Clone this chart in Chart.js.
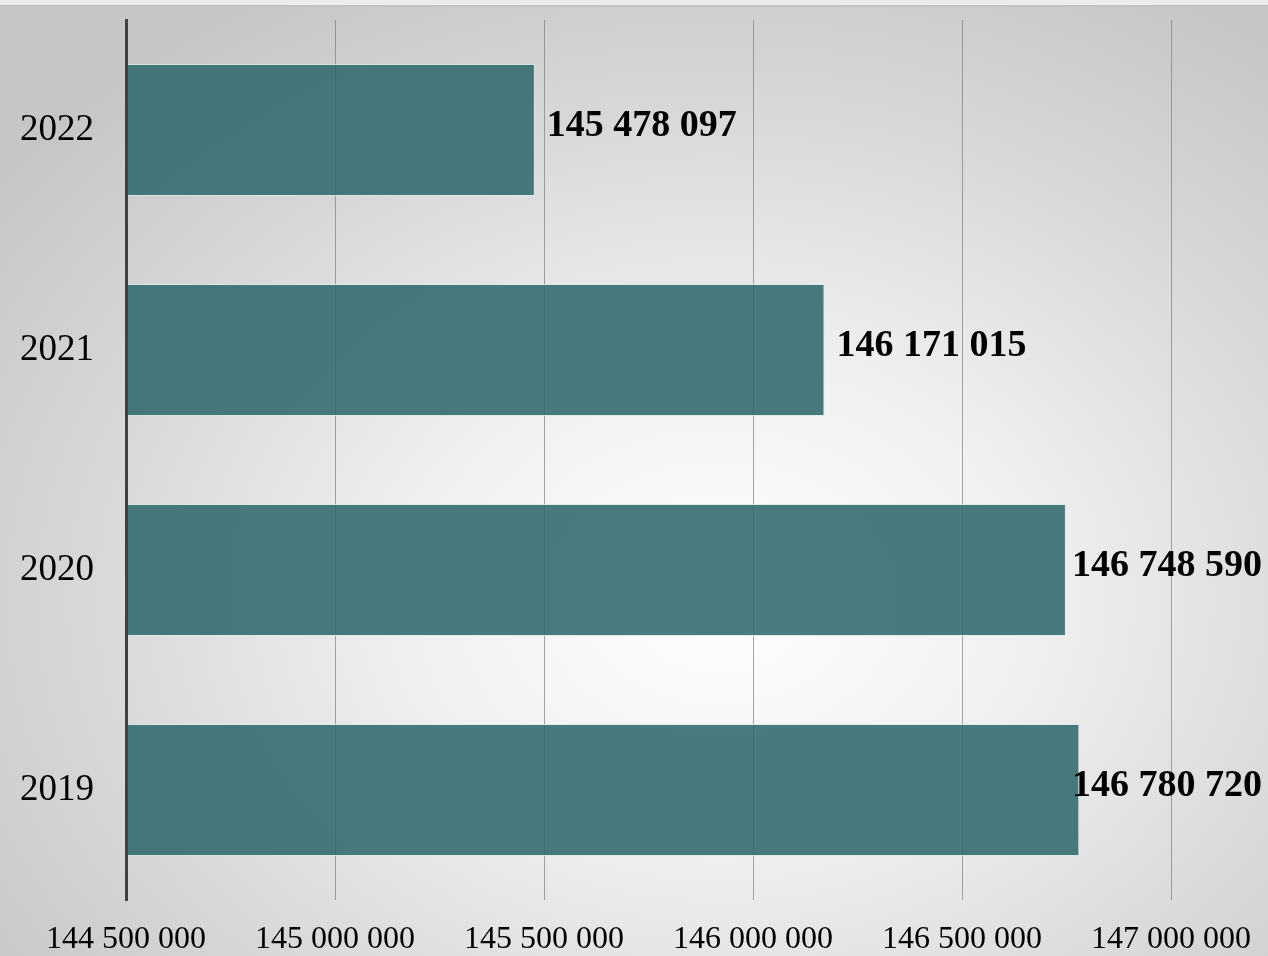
<!DOCTYPE html>
<html>
<head>
<meta charset="utf-8">
<script src="https://cdn.jsdelivr.net/npm/chart.js@4"></script>
<style>
  html, body { margin: 0; padding: 0; }
  body {
    width: 1268px; height: 956px; overflow: hidden;
    background: radial-gradient(ellipse 900px 700px at 720px 600px, #ffffff 0%, #f0f0f0 35%, #d8d8d8 70%, #c6c6c6 100%);
    position: relative;
  }
  .topstrip { position: absolute; left: 0; top: 0; width: 1268px; height: 5px; background: #ececec; border-bottom: 2px solid #c4c4c4; }
  #wrap { position: absolute; left: 0; top: 0; width: 1268px; height: 956px; }
</style>
</head>
<body>
<div class="topstrip"></div>
<div id="wrap"><canvas id="popChart" width="1268" height="956"></canvas></div>
<script>
const years = ['2022', '2021', '2020', '2019'];
const population = [145478097, 146171015, 146748590, 146780720];
const axisMin = 144500000;
const axisMax = 147000000;

const fmt = v => String(v).replace(/\B(?=(\d{3})+(?!\d))/g, ' ');

// value labels next to each bar
const valueLabels = {
    id: 'valueLabels',
    afterDatasetsDraw(chart) {
        const ctx = chart.ctx;
        const meta = chart.getDatasetMeta(0);
        ctx.save();
        ctx.font = 'bold 38px "Liberation Serif", "Times New Roman", serif';
        ctx.fillStyle = '#000';
        ctx.textBaseline = 'middle';
        meta.data.forEach((bar, i) => {
            const txt = fmt(chart.data.datasets[0].data[i]);
            const w = ctx.measureText(txt).width;
            const x = Math.min(bar.x + 12, chart.width - 6 - w);
            ctx.fillText(txt, x, bar.y - 4);
        });
        ctx.restore();
    }
};

const ctx = document.getElementById('popChart').getContext('2d');
const popChart = new Chart(ctx, {
    type: 'bar',
    data: {
        labels: years,
        datasets: [{
            label: 'Население',
            data: population,
            backgroundColor: 'rgba(51, 109, 112, 0.9)',
            borderColor: 'rgba(210, 235, 235, 0.8)',
            borderWidth: 1,
            borderSkipped: 'left',
            categoryPercentage: 0.6,
            barPercentage: 1.0
        }]
    },
    plugins: [valueLabels],
    options: {
        indexAxis: 'y',
        responsive: false,
        animation: false,
        layout: { padding: { top: 20, right: 97, left: 0, bottom: 0 } },
        plugins: {
            legend: { display: false },
            tooltip: { enabled: false }
        },
        scales: {
            x: {
                min: axisMin,
                max: axisMax,
                ticks: {
                    stepSize: 500000,
                    color: '#000',
                    padding: 20,
                    maxRotation: 0,
                    font: { family: '"Liberation Serif", "Times New Roman", serif', size: 32 },
                    callback: v => fmt(v)
                },
                grid: { color: 'rgba(110, 110, 110, 0.6)', lineWidth: 1, drawTicks: false },
                border: { display: false },
                afterFit: s => {
                    s.height = 56;
                    s.paddingLeft = 0;
                    s.paddingRight = 0;
                }
            },
            y: {
                ticks: {
                    color: '#000',
                    padding: 32,
                    font: { family: '"Liberation Serif", "Times New Roman", serif', size: 37 }
                },
                grid: { display: false, drawTicks: false },
                border: { display: true, color: '#404040', width: 3, z: 1 },
                afterFit: s => {
                    s.width = 126;
                    s.paddingTop = 0;
                    s.paddingBottom = 0;
                }
            }
        }
    }
});
</script>
</body>
</html>
